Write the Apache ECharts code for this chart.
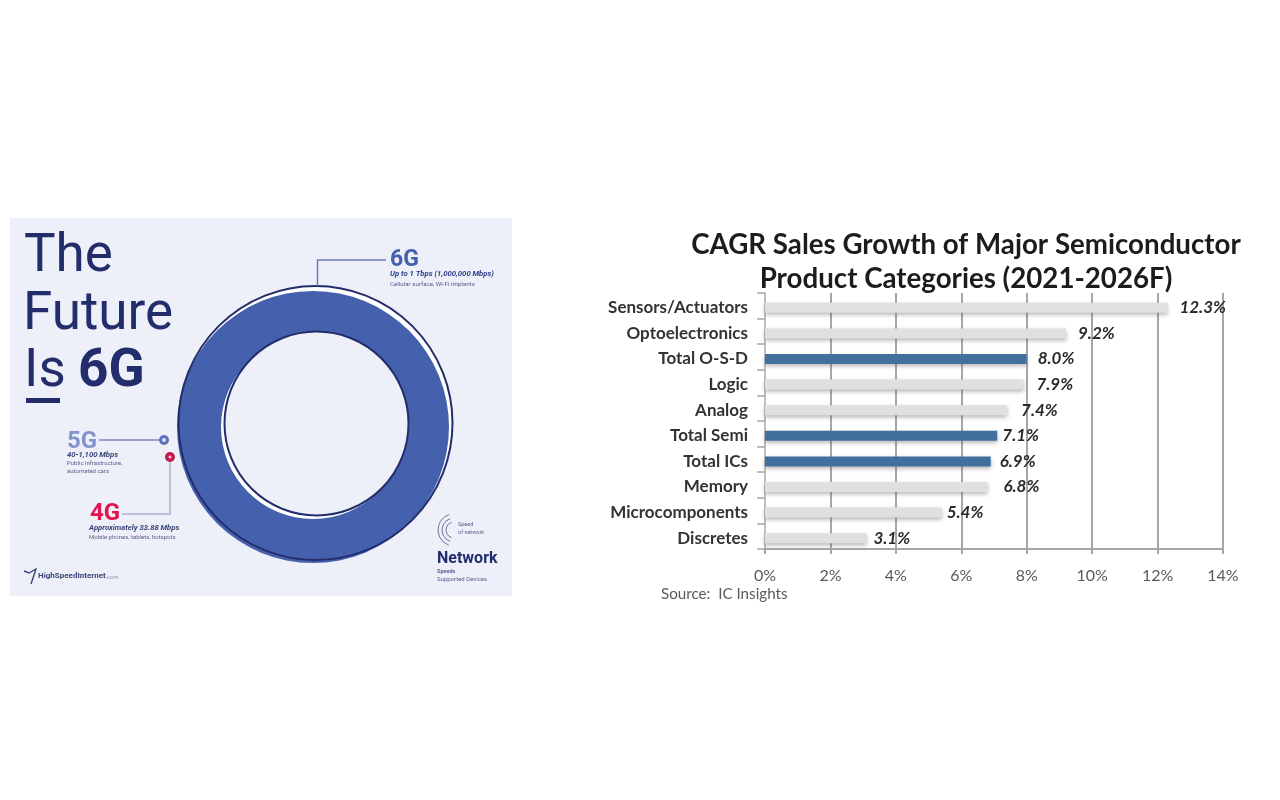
<!DOCTYPE html>
<html><head><meta charset="utf-8">
<script src="https://cdn.jsdelivr.net/npm/echarts@6/dist/echarts.min.js"></script>
<style>html,body{margin:0;background:#fff}#c{width:1280px;height:800px}</style></head>
<body><div id="c"></div>
<script>
const categories=["Sensors/Actuators","Optoelectronics","Total O-S-D","Logic","Analog","Total Semi","Total ICs","Memory","Microcomponents","Discretes"];
const growth=[12.3,9.2,8.0,7.9,7.4,7.1,6.9,6.8,5.4,3.1];
const totals=["Total O-S-D","Total Semi","Total ICs"];
const labelGap=[12,12,11,13,14,5,9,16,5,7];
const ringValues=[1];
const chartTitle="CAGR Sales Growth of Major Semiconductor\nProduct Categories (2021-2026F)";

const navy="#232d6b",blue="#4560ad",panel="#edf0f8";
const T=(x,y,text,font,fill,extra)=>({type:'text',x,y,silent:true,z:10,style:Object.assign({text,font,fill},extra||{})});
const L=(pts,stroke,w)=>({type:'polyline',silent:true,z:8,shape:{points:pts},style:{stroke,lineWidth:w,fill:null}});
const C=(cx,cy,r,fill,stroke,w,z)=>({type:'circle',silent:true,z,shape:{cx,cy,r},style:{fill:fill||'transparent',stroke:stroke||null,lineWidth:w||0}});
const graphics=[
 {type:'rect',z:-10,silent:true,shape:{x:10,y:218,width:502,height:378},style:{fill:panel}},
 T(24,221,'The','400 53px Roboto',navy,{y:0}),
 T(23,279,'Future','400 53px Roboto',navy),
 T(24,336,'Is','400 53px Roboto',navy),
 T(78,336,'6G','700 53px Roboto',navy),
 {type:'rect',z:9,silent:true,shape:{x:26,y:398,width:34,height:5},style:{fill:navy}},
 // ring layers
 C(315.5,423,137,'#ffffff',null,0,-5),
 C(316.5,423.5,92,panel,null,0,6),
 C(315.5,423,137,null,navy,2,7),
 C(316.5,423.5,92,null,navy,2,7),
 // 6G
 L([[317.5,286],[317.5,260],[386,260]],'#6d7ab0',1.5),
 T(390,249,'6G','700 23px Roboto',blue),
 T(390,270,'Up to 1 Tbps (1,000,000 Mbps)','italic 700 7.7px Roboto','#2e3f86'),
 T(390,281,'Cellular surface, Wi-Fi implants','400 6.2px Roboto','#59628f'),
 // 5G
 T(67,430,'5G','700 24px Roboto','#8294cb'),
 L([[99,440],[159,440]],'#7c88b8',1.5),
 C(164,440,5,'#5a72b8',null,0,9),
 C(164,440,2,'#dfe4f4',null,0,10),
 T(67,451,'40-1,100 Mbps','italic 700 7.7px Roboto','#3a4678'),
 T(67,460,'Public infrastructure,','400 6px Roboto','#59628f'),
 T(67,468,'automated cars','400 6px Roboto','#59628f'),
 // 4G
 T(90,502,'4G','700 24px Roboto','#e2164f'),
 L([[122,514],[170,514],[170,462]],'#a9afd0',1.5),
 C(170,457,5,'#c41a50',null,0,9),
 C(170,457,1.5,'#f2c6d3',null,0,10),
 T(89,524,'Approximately 33.88 Mbps','italic 700 7.7px Roboto','#3a4678'),
 T(89,534,'Mobile phones, tablets, hotspots','400 6px Roboto','#59628f'),
 // logo
 L([[24,571],[29,573],[36,569],[31,584]],'#3a4678',1.4),
 T(38,572,'HighSpeedInternet','700 8px Roboto','#3a4678'),
 T(105,574,'.com','400 6px Roboto','#8a93b8'),
 // speed icon
 {type:'arc',z:9,silent:true,shape:{cx:454,cy:530,r:16,startAngle:1.9,endAngle:4.4},style:{stroke:'#6c7599',lineWidth:1,fill:null}},
 {type:'arc',z:9,silent:true,shape:{cx:454,cy:530,r:12,startAngle:1.9,endAngle:4.4},style:{stroke:'#6c7599',lineWidth:1,fill:null}},
 {type:'arc',z:9,silent:true,shape:{cx:454,cy:530,r:8,startAngle:1.9,endAngle:4.4},style:{stroke:'#6c7599',lineWidth:1,fill:null}},
 T(458,522,'Speed','400 5.5px Roboto','#59628f'),
 T(458,530,'of network','400 5.5px Roboto','#59628f'),
 T(437,551,'Network','700 16px Roboto',navy),
 T(437,569,'Speeds','700 5.5px Roboto','#59628f'),
 T(437,576,'Supported Devices','400 6px Roboto','#59628f'),
 // right
 T(966,228,chartTitle,'700 27.7px Lato','#1c1c1c',{align:'center',lineHeight:34}),
 T(661,587,'Source:  IC Insights','400 15.2px Lato','#595959')
];
// title block: place via element position, not style
graphics.slice(1,5).forEach((g,i)=>{g.y=[231,289,346,346][i];delete g.style.y;});

const chart=echarts.init(document.getElementById('c'),null,{renderer:'canvas'});
const gridRule={left:765,width:458,height:256};
chart.setOption({
 animation:false,
 backgroundColor:'#fff',
 graphic:graphics,
 grid:[Object.assign({top:293},gridRule),Object.assign({top:295},gridRule)],
 xAxis:[
  {gridIndex:0,type:'value',min:0,max:14,interval:2,
   axisLabel:{formatter:'{value}%',fontFamily:'Lato',fontSize:16,color:'#595959',margin:19},
   axisLine:{show:true,lineStyle:{color:'#a6a6a6',width:2}},
   axisTick:{show:true,length:5,lineStyle:{color:'#a6a6a6',width:2}},
   splitLine:{show:true,lineStyle:{color:'#a6a6a6',width:2}}},
  {gridIndex:1,type:'value',min:0,max:14,interval:2,show:false}],
 yAxis:[
  {gridIndex:0,type:'category',inverse:true,data:categories,
   axisLabel:{show:false},
   axisLine:{show:true,onZero:false,lineStyle:{color:'#bfbfbf',width:2}},
   axisTick:{show:true,length:8,lineStyle:{color:'#a6a6a6',width:1.5}},
   splitLine:{show:false}},
  {gridIndex:1,type:'category',inverse:true,data:categories,
   axisLabel:{fontFamily:'Lato',fontWeight:700,fontSize:17,color:'#333',margin:17},
   axisLine:{show:false},axisTick:{show:false},splitLine:{show:false}}],
 series:[
  {type:'pie',center:[313,427],radius:[92,136],silent:true,z:1,label:{show:false},labelLine:{show:false},
   data:ringValues.map(v=>({value:v,itemStyle:{color:blue}}))},
  {type:'bar',xAxisIndex:1,yAxisIndex:1,barWidth:10,z:3,
   data:growth.map((v,i)=>{
    const tot=totals.includes(categories[i]);
    return {value:v,
     itemStyle:{color:tot?'#41709f':'#e0e0e0',shadowColor:'rgba(90,90,90,0.45)',shadowBlur:4,shadowOffsetY:2},
     label:{show:true,position:'right',distance:labelGap[i],formatter:v.toFixed(1)+'%',
      fontFamily:'Lato',fontStyle:'italic',fontWeight:700,fontSize:17,color:'#2b2b2b'}};
   })}
 ]
});
</script></body></html>
